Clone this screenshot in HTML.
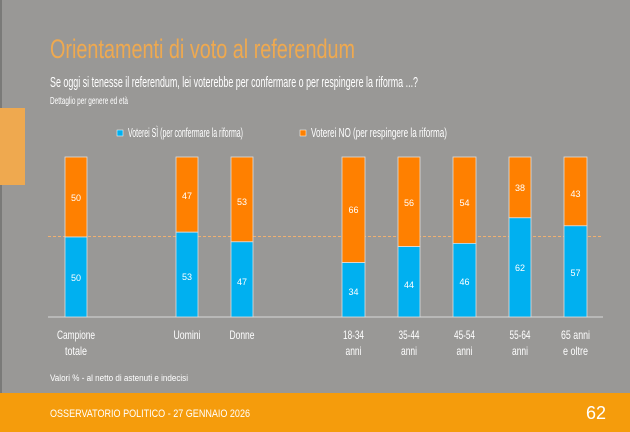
<!DOCTYPE html>
<html><head><meta charset="utf-8"><style>
html,body{margin:0;padding:0;background:#999896;}
svg{display:block;font-family:"Liberation Sans",sans-serif;}
</style></head><body>
<svg width="630" height="432" viewBox="0 0 630 432" xmlns="http://www.w3.org/2000/svg">
<rect width="630" height="432" fill="#999896"/>
<rect x="0" y="0" width="2" height="432" fill="#7a7a78"/>
<rect x="0" y="108" width="25" height="77" fill="#efa94f"/>
<text x="50" y="58" font-size="27" fill="#efa94f" textLength="305" lengthAdjust="spacingAndGlyphs">Orientamenti di voto al referendum</text>
<text x="50" y="87" font-size="15" fill="#fff" textLength="368" lengthAdjust="spacingAndGlyphs">Se oggi si tenesse il referendum, lei voterebbe per confermare o per respingere la riforma ...?</text>
<text x="50" y="104" font-size="10" fill="#fff" textLength="78" lengthAdjust="spacingAndGlyphs">Dettaglio per genere ed età</text>
<rect x="117" y="130" width="6" height="6" fill="#00b0f0" stroke="#fff" stroke-width="0.5"/>
<text x="128" y="137" font-size="13" fill="#fff" textLength="115" lengthAdjust="spacingAndGlyphs">Voterei SÌ (per confermare la riforma)</text>
<rect x="300" y="130" width="6" height="6" fill="#ff8000" stroke="#fff" stroke-width="0.5"/>
<text x="311" y="137" font-size="13" fill="#fff" textLength="136" lengthAdjust="spacingAndGlyphs">Voterei NO (per respingere la riforma)</text>
<line x1="48" y1="317" x2="603" y2="317" stroke="#d8d8d8" stroke-width="1"/>
<line x1="48" y1="236.5" x2="603" y2="236.5" stroke="#f0b070" stroke-width="1" stroke-dasharray="3,2"/>
<g font-size="9" text-anchor="middle" fill="#fff">
<rect x="65" y="157" width="22" height="80" fill="#ff8000" stroke="#dcdcdc" stroke-width="0.8"/>
<rect x="65" y="237" width="22" height="80" fill="#00b0f0" stroke="#dcdcdc" stroke-width="0.8"/>
<text x="76" y="201">50</text><text x="76" y="281">50</text>
<rect x="176" y="157" width="22" height="75.2" fill="#ff8000" stroke="#dcdcdc" stroke-width="0.8"/>
<rect x="176" y="232.2" width="22" height="84.8" fill="#00b0f0" stroke="#dcdcdc" stroke-width="0.8"/>
<text x="187" y="199">47</text><text x="187" y="280">53</text>
<rect x="231" y="157" width="22" height="84.8" fill="#ff8000" stroke="#dcdcdc" stroke-width="0.8"/>
<rect x="231" y="241.8" width="22" height="75.2" fill="#00b0f0" stroke="#dcdcdc" stroke-width="0.8"/>
<text x="242" y="205">53</text><text x="242" y="285">47</text>
<rect x="342" y="157" width="23" height="105.6" fill="#ff8000" stroke="#dcdcdc" stroke-width="0.8"/>
<rect x="342" y="262.6" width="23" height="54.4" fill="#00b0f0" stroke="#dcdcdc" stroke-width="0.8"/>
<text x="353.5" y="213">66</text><text x="353.5" y="295">34</text>
<rect x="398" y="157" width="22" height="89.6" fill="#ff8000" stroke="#dcdcdc" stroke-width="0.8"/>
<rect x="398" y="246.6" width="22" height="70.4" fill="#00b0f0" stroke="#dcdcdc" stroke-width="0.8"/>
<text x="409" y="206">56</text><text x="409" y="288">44</text>
<rect x="453" y="157" width="23" height="86.4" fill="#ff8000" stroke="#dcdcdc" stroke-width="0.8"/>
<rect x="453" y="243.4" width="23" height="73.6" fill="#00b0f0" stroke="#dcdcdc" stroke-width="0.8"/>
<text x="464.5" y="206">54</text><text x="464.5" y="285">46</text>
<rect x="509" y="157" width="22" height="60.8" fill="#ff8000" stroke="#dcdcdc" stroke-width="0.8"/>
<rect x="509" y="217.8" width="22" height="99.2" fill="#00b0f0" stroke="#dcdcdc" stroke-width="0.8"/>
<text x="520" y="191">38</text><text x="520" y="271">62</text>
<rect x="564" y="157" width="23" height="68.8" fill="#ff8000" stroke="#dcdcdc" stroke-width="0.8"/>
<rect x="564" y="225.8" width="23" height="91.2" fill="#00b0f0" stroke="#dcdcdc" stroke-width="0.8"/>
<text x="575.5" y="197">43</text><text x="575.5" y="276">57</text>
</g>
<g font-size="12" fill="#fff" text-anchor="middle" lengthAdjust="spacingAndGlyphs">
<text x="76" y="339" textLength="38" lengthAdjust="spacingAndGlyphs">Campione</text><text x="76" y="355" textLength="22" lengthAdjust="spacingAndGlyphs">totale</text>
<text x="187" y="339" textLength="27" lengthAdjust="spacingAndGlyphs">Uomini</text>
<text x="242" y="339" textLength="25" lengthAdjust="spacingAndGlyphs">Donne</text>
<text x="353.5" y="339" textLength="21" lengthAdjust="spacingAndGlyphs">18-34</text><text x="353.5" y="355" textLength="16" lengthAdjust="spacingAndGlyphs">anni</text>
<text x="409" y="339" textLength="21" lengthAdjust="spacingAndGlyphs">35-44</text><text x="409" y="355" textLength="16" lengthAdjust="spacingAndGlyphs">anni</text>
<text x="464.5" y="339" textLength="21" lengthAdjust="spacingAndGlyphs">45-54</text><text x="464.5" y="355" textLength="16" lengthAdjust="spacingAndGlyphs">anni</text>
<text x="520" y="339" textLength="21" lengthAdjust="spacingAndGlyphs">55-64</text><text x="520" y="355" textLength="16" lengthAdjust="spacingAndGlyphs">anni</text>
<text x="575.5" y="339" textLength="29" lengthAdjust="spacingAndGlyphs">65 anni</text><text x="575.5" y="355" textLength="25" lengthAdjust="spacingAndGlyphs">e oltre</text>
</g>
<text x="50" y="381" font-size="9" fill="#fff" textLength="138" lengthAdjust="spacingAndGlyphs">Valori % - al netto di astenuti e indecisi</text>
<rect x="0" y="393" width="630" height="39" fill="#f59c0c"/>
<text x="50" y="417" font-size="11" fill="#fff" textLength="200" lengthAdjust="spacingAndGlyphs">OSSERVATORIO POLITICO - 27 GENNAIO 2026</text>
<text x="606" y="419" font-size="18" fill="#fff" text-anchor="end">62</text>
</svg>
</body></html>
